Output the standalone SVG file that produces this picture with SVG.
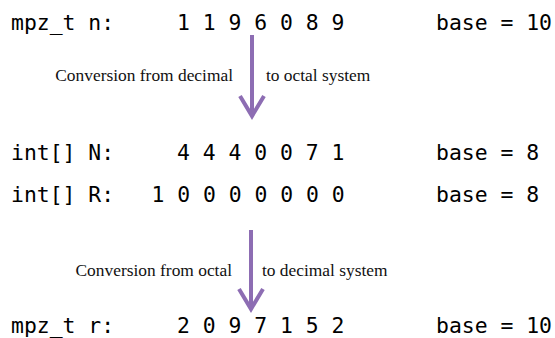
<svg xmlns="http://www.w3.org/2000/svg" width="555" height="338" viewBox="0 0 555 338">
  <style>
    .mono { font-family: "DejaVu Sans Mono", "Liberation Mono", monospace; font-size: 21.4px; fill: #000; }
    .serif { font-family: "Liberation Serif", "DejaVu Serif", serif; font-size: 17.4px; fill: #111; }
    .conn { stroke: #8D6DB3; stroke-width: 4; fill: none; }
  </style>
  <defs>
    <marker id="chev" markerUnits="userSpaceOnUse" viewBox="-24 -16 28 32" refX="0" refY="0" markerWidth="28" markerHeight="32" orient="auto" overflow="visible">
      <path d="M-20,-12 L0,0 L-20,12" fill="none" stroke="#8D6DB3" stroke-width="4" stroke-linejoin="miter"/>
    </marker>
  </defs>
  <rect width="555" height="338" fill="#fff"/>

  <g id="row-n">
    <text class="mono" x="11" y="30">mpz_t n:</text>
    <text class="mono" x="177" y="30" xml:space="preserve">1 1 9 6 0 8 9</text>
    <text class="mono" x="436" y="30" xml:space="preserve">base = 10</text>
  </g>
  <g id="row-N">
    <text class="mono" x="11" y="160" xml:space="preserve">int[] N:</text>
    <text class="mono" x="177" y="160" xml:space="preserve">4 4 4 0 0 7 1</text>
    <text class="mono" x="436" y="160" xml:space="preserve">base = 8</text>
  </g>
  <g id="row-R">
    <text class="mono" x="11" y="202" xml:space="preserve">int[] R:</text>
    <text class="mono" x="151.5" y="202" xml:space="preserve">1 0 0 0 0 0 0 0</text>
    <text class="mono" x="436" y="202" xml:space="preserve">base = 8</text>
  </g>
  <g id="row-r">
    <text class="mono" x="11" y="333">mpz_t r:</text>
    <text class="mono" x="177" y="333" xml:space="preserve">2 0 9 7 1 5 2</text>
    <text class="mono" x="436" y="333" xml:space="preserve">base = 10</text>
  </g>

  <g id="connectors">
    <line class="conn" x1="252" y1="35" x2="252" y2="116" marker-end="url(#chev)"/>
    <line class="conn" x1="251" y1="230" x2="251" y2="309" marker-end="url(#chev)"/>
  </g>

  <g id="labels">
    <text class="serif" x="233" y="81" text-anchor="end">Conversion from decimal</text>
    <text class="serif" x="266" y="81">to octal system</text>
    <text class="serif" x="232" y="276" text-anchor="end">Conversion from octal</text>
    <text class="serif" x="262" y="276">to decimal system</text>
  </g>
</svg>
